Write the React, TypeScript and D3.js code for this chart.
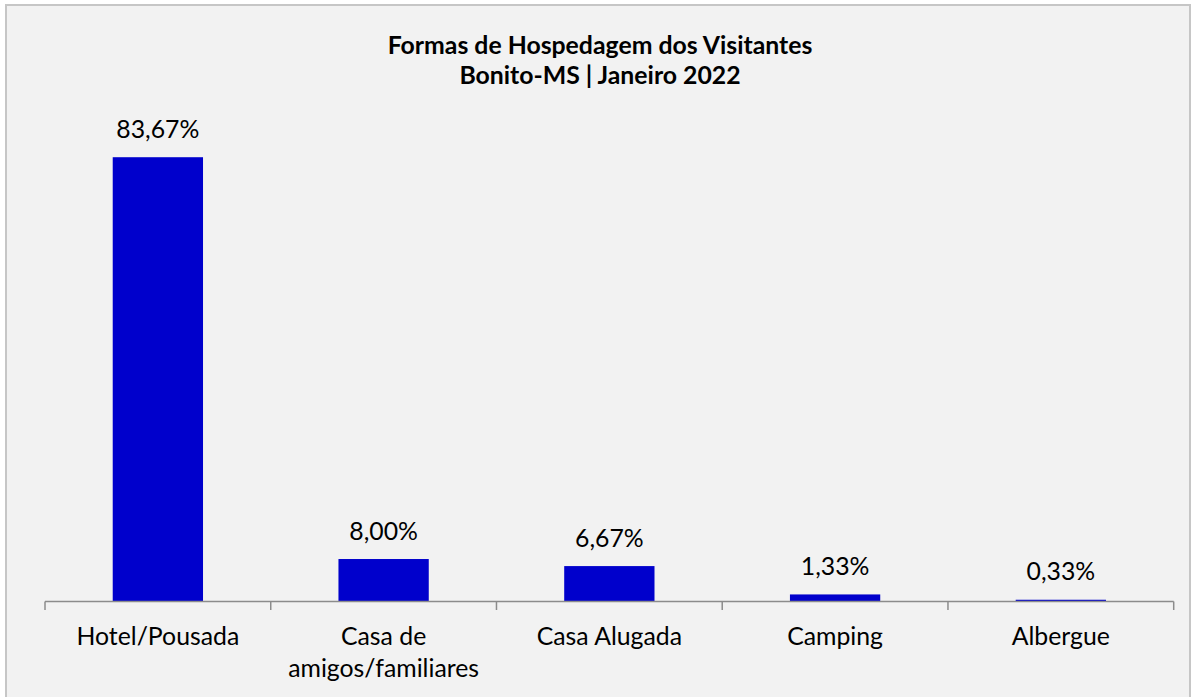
import React from "react";
import * as d3 from "d3";

const categories: string[][] = [
  ["Hotel/Pousada"],
  ["Casa de", "amigos/familiares"],
  ["Casa Alugada"],
  ["Camping"],
  ["Albergue"],
];
const values: number[] = [83.67, 8.0, 6.67, 1.33, 0.33];
const titleLines: string[] = ["Formas de Hospedagem dos Visitantes", "Bonito-MS | Janeiro 2022"];

const W = 1195;
const H = 697;
const FONT = "Lato, 'Open Sans', sans-serif";

export default function App() {
  const keys = categories.map((c) => c.join(" "));
  const x = d3
    .scaleBand<string>()
    .domain(keys)
    .range([45, 1173.7])
    .paddingInner(0.6)
    .paddingOuter(0.3);
  const step = x.step();
  const y = d3.scaleLinear().domain([0, 100]).range([601.5, 70.5]);
  const fmt = (v: number) => d3.format(".2f")(v).replace(".", ",") + "%";
  const base = y(0);
  const boundaries = d3.range(keys.length + 1).map((i) => 45 + i * step);

  return (
    <svg
      width={W}
      height={H}
      style={{ position: "absolute", left: 0, top: 0, background: "#ffffff" }}
    >
      <rect x={6} y={5} width={1184} height={720} fill="#F2F2F2" stroke="#C6C6C6" strokeWidth={2} />
      <g fontFamily={FONT} fontWeight={700} fontSize={24.8} fill="#000" textAnchor="middle">
        {titleLines.map((t, i) => (
          <text key={i} x={600} y={54.3 + i * 30}>
            {t}
          </text>
        ))}
      </g>
      {keys.map((k, i) => (
        <rect
          key={k}
          x={x(k)}
          y={y(values[i])}
          width={x.bandwidth()}
          height={base - y(values[i])}
          fill="#0000CC"
        />
      ))}
      <line x1={45} x2={1173.7} y1={base} y2={base} stroke="#8C8C8C" strokeWidth={1.5} />
      {boundaries.map((b, i) => (
        <line key={i} x1={b} x2={b} y1={base} y2={base + 8.5} stroke="#8C8C8C" strokeWidth={1.5} />
      ))}
      <g fontFamily={FONT} fontSize={24.8} fill="#000" textAnchor="middle">
        {keys.map((k, i) => (
          <text key={k} x={(x(k) as number) + x.bandwidth() / 2} y={y(values[i]) - 19.5}>
            {fmt(values[i])}
          </text>
        ))}
        {categories.map((lines, i) => (
          <text key={i} x={(x(keys[i]) as number) + x.bandwidth() / 2} y={645}>
            {lines.map((l, j) => (
              <tspan key={j} x={(x(keys[i]) as number) + x.bandwidth() / 2} y={645 + j * 31.7}>
                {l}
              </tspan>
            ))}
          </text>
        ))}
      </g>
    </svg>
  );
}
